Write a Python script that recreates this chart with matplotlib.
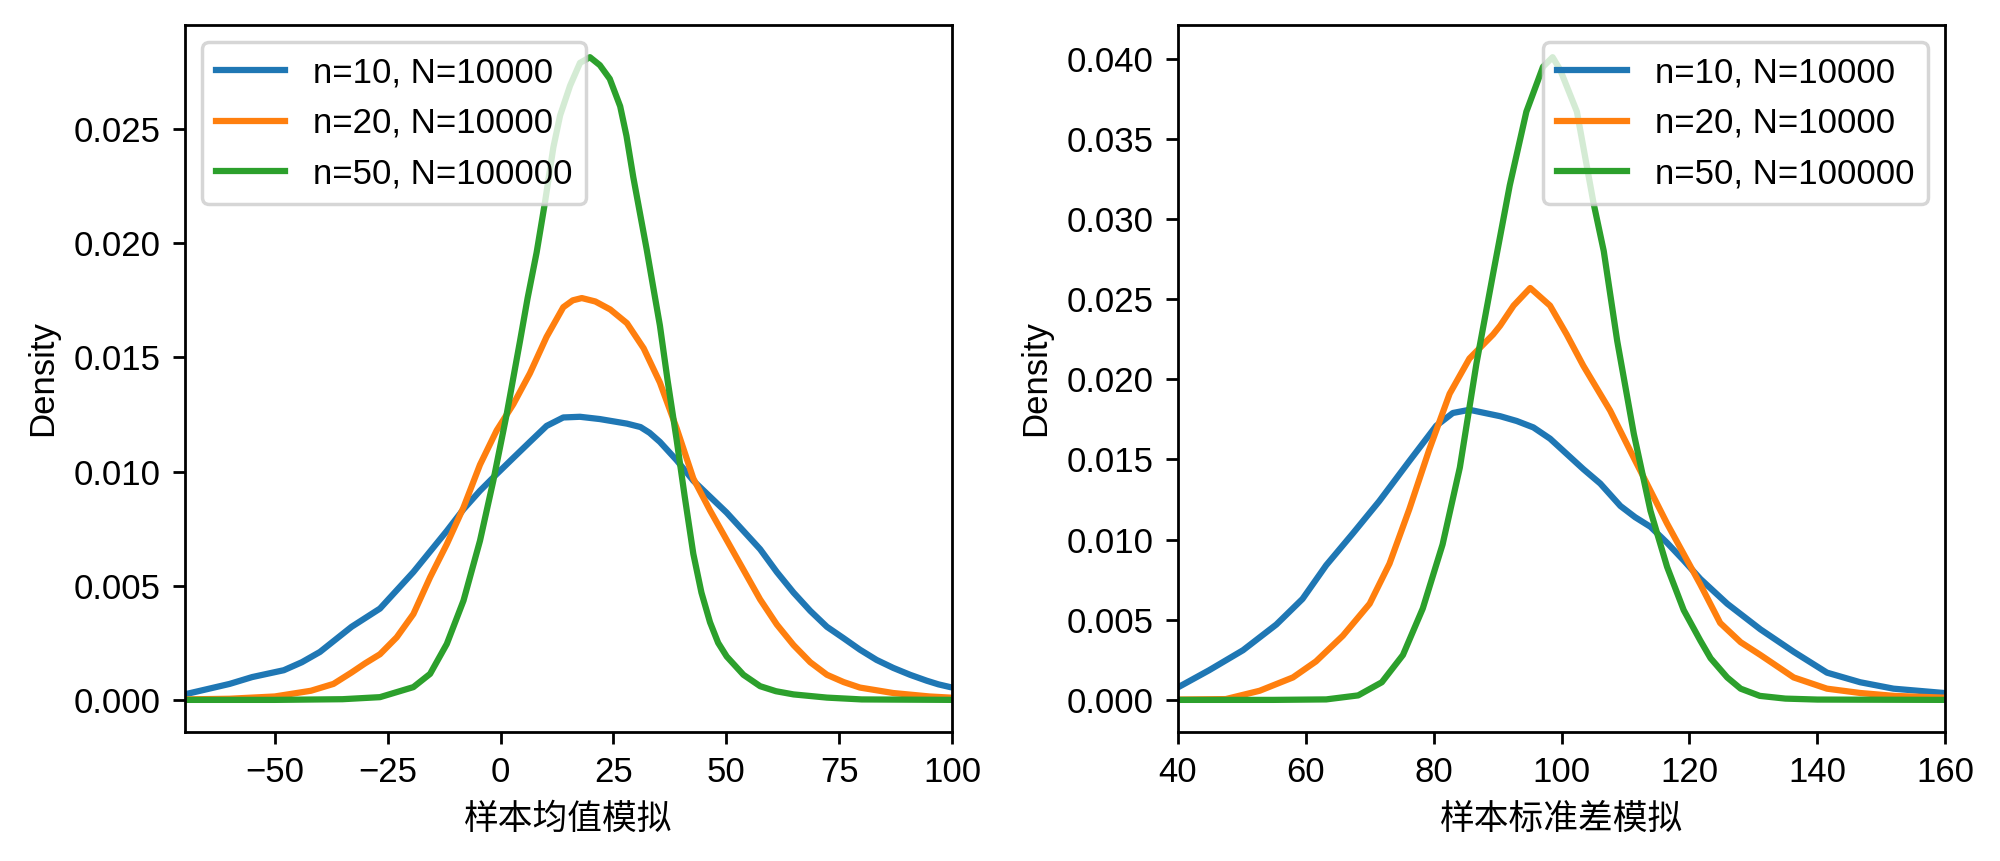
import matplotlib
matplotlib.use("Agg")
import matplotlib.pyplot as plt
import numpy as np

plt.rcParams['font.family'] = ['Liberation Sans', 'Noto Sans CJK SC', 'DejaVu Sans']
plt.rcParams['font.size'] = 10

labels = ["n=10, N=10000", "n=20, N=10000", "n=50, N=100000"]
colors = ["#1f77b4", "#ff7f0e", "#2ca02c"]

# ---- Left panel: sample mean simulation (density in units of 1e-3) ----
mean_x_n10 = [-80, -75, -70, -60, -55, -48, -44, -40, -33, -26.7, -19.3, -11.9, -8.2, -4.55, -0.86,
              2.83, 6.5, 10.2, 13.9, 17.6, 22, 25, 28, 31, 33, 35.3, 39, 42.7, 46.4, 50.1, 53.8,
              57.5, 61.2, 64.9, 68.6, 72.3, 76, 79.6, 83.3, 87, 90.7, 94.4, 97, 99.6, 105]
mean_y_n10 = [0.06, 0.12, 0.24, 0.7, 1.0, 1.3, 1.65, 2.1, 3.2, 4.0, 5.6, 7.4, 8.35, 9.16, 9.89,
              10.6, 11.3, 12.0, 12.37, 12.4, 12.3, 12.2, 12.1, 11.95, 11.7, 11.3, 10.5, 9.6, 8.9, 8.2, 7.4,
              6.6, 5.6, 4.7, 3.9, 3.2, 2.7, 2.2, 1.75, 1.4, 1.1, 0.84, 0.68, 0.56, 0.4]

mean_x_n20 = [-80, -70, -60, -50, -42, -37, -33, -30, -26.7, -23.0, -19.3, -15.6, -11.9, -8.2,
              -4.55, -0.86, 2.83, 6.5, 10.2, 13.9, 16, 18, 21, 24.3, 28, 31.7, 35.3, 39, 42.7,
              46.4, 50.1, 53.8, 57.5, 61.2, 64.9, 68.6, 72.3, 76, 79.6, 87, 95, 99.6, 105]
mean_y_n20 = [0.0, 0.02, 0.05, 0.15, 0.4, 0.7, 1.2, 1.6, 2.0, 2.74, 3.76, 5.37, 6.82, 8.43,
              10.3, 11.8, 12.95, 14.3, 15.9, 17.2, 17.5, 17.6, 17.45, 17.1, 16.5, 15.4, 13.9, 11.9, 9.7,
              8.3, 7.0, 5.7, 4.4, 3.3, 2.4, 1.65, 1.1, 0.78, 0.54, 0.3, 0.15, 0.1, 0.05]

mean_x_n50 = [-80, -70, -50, -35, -26.7, -19.3, -15.6, -11.9, -8.2, -4.55, -1.6, 1.35, 4.3,
              6.0, 8.0, 9.85, 11.7, 13.2, 15.4, 17.6, 19.8, 22.0, 24.2, 26.5, 27.9, 29.4, 30.9,
              32.4, 33.8, 35.3, 37, 39, 40.8, 42.7, 44.5, 46.4, 48.2, 50.1, 53.8, 57.5, 61,
              64.9, 72.3, 80, 100, 105]
mean_y_n50 = [0.0, 0.0, 0.0, 0.03, 0.12, 0.56, 1.14, 2.45, 4.35, 6.97, 9.6, 12.5, 15.7,
              17.6, 19.6, 21.8, 24.2, 25.6, 26.9, 27.9, 28.15, 27.8, 27.2, 26.0, 24.7, 22.9, 21.3,
              19.7, 18.1, 16.4, 14.0, 11.4, 8.9, 6.4, 4.7, 3.4, 2.5, 1.9, 1.1, 0.6, 0.38,
              0.24, 0.1, 0.02, 0.0, 0.0]

# ---- Right panel: sample standard deviation simulation (density in units of 1e-3) ----
sd_x_n10 = [35, 39.7, 44.9, 50.2, 55.4, 59.5, 63.2, 67.4, 71.5, 76.2, 80.4, 83, 85.6, 88,
            90.4, 93, 95.6, 98.2, 100.8, 103.4, 106.05, 109.2, 111.5, 113.9, 116.5, 119.1,
            121.7, 125.9, 131.1, 136.3, 141.5, 146.7, 151.9, 159.8, 165]
sd_y_n10 = [0.3, 0.71, 1.85, 3.1, 4.7, 6.3, 8.4, 10.4, 12.4, 14.9, 17.1, 17.9, 18.1, 17.9,
            17.7, 17.4, 17.0, 16.3, 15.35, 14.4, 13.5, 12.1, 11.4, 10.8, 9.8, 8.7,
            7.55, 6.0, 4.4, 3.0, 1.7, 1.1, 0.7, 0.43, 0.3]

sd_x_n20 = [35, 40, 47.5, 52.8, 58, 61.6, 65.8, 70, 73.1, 76.2, 79.3, 82.5, 85.6, 89.3,
            90.4, 92.5, 95.1, 98.2, 100.8, 103.4, 107.6, 111.3, 113.9, 116.5, 119.1, 121.7,
            124.8, 128, 131.1, 136.3, 141.5, 146.7, 152, 159.8, 165]
sd_y_n20 = [0.0, 0.02, 0.05, 0.57, 1.4, 2.4, 4.0, 6.0, 8.5, 11.9, 15.6, 19.1, 21.3, 22.8,
            23.35, 24.6, 25.7, 24.6, 22.8, 20.85, 18.05, 15.1, 13.05, 11.0, 9.1, 7.2,
            4.8, 3.6, 2.8, 1.4, 0.7, 0.43, 0.25, 0.14, 0.08]

sd_x_n50 = [35, 40, 55, 63.2, 68.2, 71.9, 75.2, 78.3, 81.4, 84.1, 86.7, 89.3, 91.9, 94.5,
            97.1, 98.6, 99.8, 102.4, 105, 106.6, 108.7, 111.3, 113.9, 116.5, 119.1, 121.7,
            123.3, 125.9, 128, 131, 135, 140, 160, 165]
sd_y_n50 = [0.0, 0.0, 0.0, 0.03, 0.28, 1.1, 2.8, 5.7, 9.7, 14.5, 21.0, 26.6, 32.1, 36.7,
            39.5, 40.1, 39.3, 36.7, 31.0, 28.0, 22.4, 16.6, 11.8, 8.3, 5.6, 3.7,
            2.6, 1.4, 0.7, 0.25, 0.08, 0.02, 0.0, 0.0]

mean_series = [(mean_x_n10, mean_y_n10), (mean_x_n20, mean_y_n20), (mean_x_n50, mean_y_n50)]
sd_series = [(sd_x_n10, sd_y_n10), (sd_x_n20, sd_y_n20), (sd_x_n50, sd_y_n50)]

fig = plt.figure(figsize=(8, 3.444), dpi=250)
ax1 = fig.add_axes([0.09225, 0.1498, 0.38375, 0.8211])
ax2 = fig.add_axes([0.5889, 0.1498, 0.38375, 0.8211])

for (xs, ys), lab, c in zip(mean_series, labels, colors):
    ax1.plot(xs, np.array(ys) * 1e-3, color=c, lw=1.8, label=lab)
for (xs, ys), lab, c in zip(sd_series, labels, colors):
    ax2.plot(xs, np.array(ys) * 1e-3, color=c, lw=1.8, label=lab)

ax1.set_xlim(-70, 100)
ax2.set_xlim(40, 160)
ax1.set_ylabel("Density")
ax2.set_ylabel("Density")
ax1.set_xlabel("样本均值模拟")
ax2.set_xlabel("样本标准差模拟")
ax1.legend(loc="upper left")
ax2.legend(loc="upper right")

fig.savefig("out.png", dpi=250)
